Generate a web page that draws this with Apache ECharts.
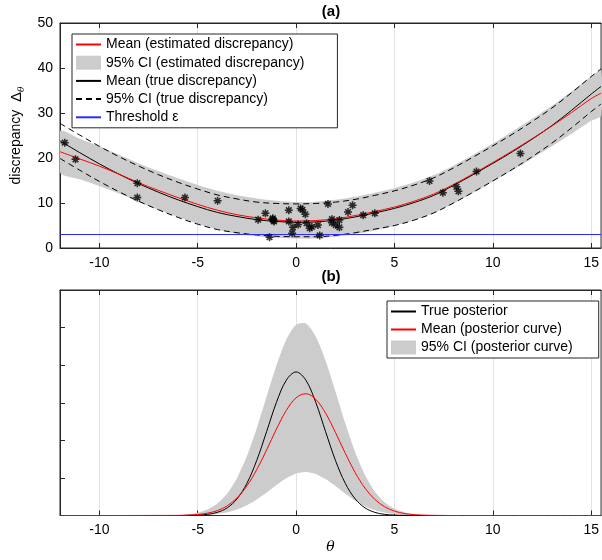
<!DOCTYPE html>
<html><head><meta charset="utf-8">
<script src="https://cdn.jsdelivr.net/npm/echarts@6/dist/echarts.min.js"></script>
<style>html,body{margin:0;padding:0;background:#fff}#c{width:602px;height:560px}</style>
</head><body><div id="c"></div>
<script>
// ---------- data: panel (a) ----------
const thetaA   = [-12,-11,-10,-9,-8,-7,-6,-5,-4,-3,-2,-1,0,1,2,3,4,5,6,7,8,9,10,11,12,13,14,15,15.5];
const estMean  = [21.4,19.8,18.2,16.4,14.5,12.8,11.2,9.7,8.4,7.4,6.7,6.2,6.0,6.1,6.5,7.2,8.1,9.1,10.4,12.0,14.1,16.5,19.0,21.6,24.3,27.1,30.1,33.2,34.4];
const estHi    = [26.0,24.3,22.6,20.7,18.8,17.1,15.5,14.0,12.7,11.7,11.0,10.5,10.2,10.3,10.7,11.4,12.3,13.3,14.6,16.2,18.3,20.7,23.2,25.9,28.7,31.6,34.8,38.1,39.4];
const estLo    = [16.8,15.3,13.8,12.1,10.2,8.5,6.9,5.4,4.1,3.1,2.6,2.2,2.1,2.1,2.5,3.1,3.9,4.9,6.2,7.8,9.9,12.3,14.8,17.3,19.9,22.6,25.4,28.3,29.4];
const trueMean = [23.8,21.2,18.7,16.4,14.3,12.4,10.7,9.2,7.9,7.0,6.3,5.9,5.7,5.8,6.2,6.9,7.8,8.8,10.1,11.7,13.9,16.3,18.8,21.4,24.2,27.2,30.6,34.2,35.9];
const trueHi   = [27.7,25.1,22.6,20.3,18.2,16.3,14.6,13.1,11.8,10.9,10.2,9.9,9.8,9.9,10.2,10.8,11.7,12.7,14.0,15.6,17.8,20.2,22.7,25.3,28.1,31.1,34.5,38.1,39.8];
const trueLo   = [19.9,17.3,14.8,12.5,10.4,8.5,6.8,5.3,4.1,3.4,2.9,2.6,2.5,2.5,2.8,3.4,4.2,5.0,6.2,7.8,10.0,12.4,14.9,17.5,20.3,23.3,26.7,30.3,32.0];
const thresholdEps = 3;
const obsTheta = [-11.76,-11.21,-8.07,-8.07,-5.65,-3.99,-1.93,-1.56,-1.18,-1.12,-1.2,-1.15,-1.35,-0.37,-0.37,-0.16,-0.2,0.1,0.23,0.32,0.47,0.53,0.69,0.8,1.11,1.2,1.62,1.82,1.82,2.02,2.2,2.2,2.64,2.87,3.41,4.0,6.78,7.46,8.15,8.25,9.17,11.4,15.55];
const obsDisc  = [23.4,19.7,14.4,11.2,11.2,10.5,6.3,7.7,6.6,5.9,6.4,6.1,2.4,8.4,5.9,4.6,3.3,5.2,8.8,8.5,7.5,5.5,4.4,4.7,5.1,2.8,9.8,6.4,5.6,5.1,4.6,6.2,8.0,9.5,7.3,7.7,14.9,12.3,13.6,12.6,17.0,21.0,34.4];

// ---------- data: panel (b) ----------
const thetaB    = [-12,-9,-7,-6,-5.5,-5,-4.5,-4,-3.5,-3,-2.5,-2,-1.5,-1,-0.5,0,0.5,1,1.5,2,2.5,3,3.5,4,4.5,5,5.5,6,6.5,7,8,10,12,15.5];
const truePost  = [0,0,0,0,0.0001,0.0005,0.0015,0.0042,0.0102,0.0222,0.0428,0.0733,0.1115,0.1504,0.1799,0.191,0.1799,0.1504,0.1115,0.0733,0.0428,0.0222,0.0102,0.0042,0.0015,0.0005,0.0001,0,0,0,0,0,0,0];
const meanPost  = [0,0,0.0001,0.0002,0.0005,0.0013,0.0031,0.0065,0.0129,0.0235,0.0394,0.0610,0.0872,0.1149,0.1397,0.1566,0.1620,0.1546,0.1361,0.1105,0.0828,0.0572,0.0365,0.0215,0.0116,0.0058,0.0027,0.0011,0.0005,0.0002,0,0,0,0];
const ciHiPost  = [0,0,0.0001,0.0006,0.0016,0.0037,0.0079,0.0158,0.0292,0.0499,0.0790,0.1161,0.1582,0.1997,0.2338,0.2537,0.2553,0.2381,0.2059,0.1650,0.1226,0.0845,0.0540,0.0319,0.0175,0.0089,0.0042,0.0018,0.0007,0.0003,0,0,0,0];
const ciLoPost  = [0,0,0,0.0001,0.0002,0.0004,0.0010,0.0021,0.0043,0.0079,0.0135,0.0212,0.0306,0.0407,0.0497,0.0560,0.0580,0.0553,0.0484,0.0391,0.0290,0.0198,0.0124,0.0072,0.0038,0.0019,0.0008,0.0003,0.0001,0,0,0,0,0];

const xTicks = [-10,-5,0,5,10,15];

// ---------- build ----------
const FONT = '"Liberation Sans", Arial, Helvetica, sans-serif';
const INK = '#262626';
const BAND = '#cccccc';
const zip = (xs, ys) => xs.map((x, i) => [x, ys[i]]);

function xAx(grid, opts) {
  return Object.assign({
    gridIndex: grid, type: 'value', min: -12, max: 15.5,
    axisLine: { onZero: false, lineStyle: { color: INK, width: 1 } },
    axisTick: { inside: true, length: 5, customValues: xTicks, lineStyle: { color: INK } },
    axisLabel: { customValues: xTicks, fontSize: 14, color: '#000', fontFamily: FONT, margin: 8 },
    splitLine: { show: true, lineStyle: { color: '#e2e2e2', width: 1 } }
  }, opts || {});
}
function xAxTop(grid) {
  return {
    gridIndex: grid, type: 'value', min: -12, max: 15.5, position: 'top',
    axisLine: { onZero: false, lineStyle: { color: INK } },
    axisTick: { inside: true, length: 5, customValues: xTicks, lineStyle: { color: INK } },
    axisLabel: { show: false }, splitLine: { show: false }
  };
}
function yAx(grid, max, interval, extra) {
  return Object.assign({
    gridIndex: grid, type: 'value', min: 0, max, interval, position: 'left',
    axisLine: { show: true, onZero: false, lineStyle: { color: INK } },
    axisTick: { show: true, inside: true, length: 5, lineStyle: { color: INK } },
    axisLabel: { show: false }, splitLine: { show: false }
  }, extra || {});
}

const line = (name, xi, data, color, extra) => Object.assign({
  name, type: 'line', xAxisIndex: xi, yAxisIndex: xi, data, symbol: 'none', showSymbol: false,
  smooth: 0.35, silent: true, z: 3,
  lineStyle: { color, width: 1 }, itemStyle: { color }
}, extra || {});

// band between two read-off edges, drawn through the axis scales
const band = (name, xi, xs, lo, hi) => ({
  name, type: 'custom', xAxisIndex: xi, yAxisIndex: xi, silent: true, z: 1, clip: true,
  itemStyle: { color: BAND },
  data: [[xs[0], lo[0]]],
  renderItem: (params, api) => {
    const up = xs.map((x, i) => api.coord([x, hi[i]]));
    const dn = xs.map((x, i) => api.coord([x, lo[i]])).reverse();
    return { type: 'polygon', shape: { points: up.concat(dn), smooth: 0.25 }, style: { fill: BAND, stroke: null } };
  }
});

const legendBase = {
  orient: 'vertical', selectedMode: false,
  itemWidth: 25, itemHeight: 14,
  borderColor: INK, borderWidth: 1, backgroundColor: '#fff',
  itemStyle: { opacity: 0 },
  textStyle: { fontSize: 14, color: '#000', fontFamily: FONT }
};

const chart = echarts.init(document.getElementById('c'), null, { renderer: 'canvas' });
chart.setOption({
  animation: false,
  textStyle: { fontFamily: FONT },
  graphic: [
    { type: 'text', x: 331, y: 12, style: { text: '(a)', fontSize: 15, fontWeight: 'bold', fontFamily: FONT, fill: '#000', align: 'center', verticalAlign: 'middle' } },
    { type: 'text', x: 331, y: 277, style: { text: '(b)', fontSize: 15, fontWeight: 'bold', fontFamily: FONT, fill: '#000', align: 'center', verticalAlign: 'middle' } }
  ],
  grid: [
    { left: 60, top: 23, width: 542, height: 225, show: true, borderColor: INK, borderWidth: 1 },
    { left: 60, top: 290, width: 542, height: 225.5, show: true, borderColor: INK, borderWidth: 1 }
  ],
  legend: [
    Object.assign({}, legendBase, {
      left: 72, top: 34, itemGap: 4.2, padding: [3.5, 33, 3.5, 3],
      data: [
        { name: 'Mean (estimated discrepancy)' },
        { name: '95% CI (estimated discrepancy)', icon: 'rect', itemStyle: { color: BAND, opacity: 1 } },
        { name: 'Mean (true discrepancy)' },
        { name: '95% CI (true discrepancy)' },
        { name: 'Threshold ε' }
      ]
    }),
    Object.assign({}, legendBase, {
      left: 387, top: 301, itemGap: 4, padding: [3.5, 26, 3.5, 3],
      data: [
        { name: 'True posterior' },
        { name: 'Mean (posterior curve)' },
        { name: '95% CI (posterior curve)', icon: 'rect', itemStyle: { color: BAND, opacity: 1 } }
      ]
    })
  ],
  xAxis: [
    xAx(0),
    xAx(1, { name: 'θ', nameLocation: 'middle', nameGap: 25,
      nameTextStyle: { fontSize: 14, fontStyle: 'italic', fontFamily: '"DejaVu Serif", "Liberation Serif", serif', color: '#000' } }),
    xAxTop(0), xAxTop(1)
  ],
  yAxis: [
    yAx(0, 50, 10, {
      axisLabel: { show: true, fontSize: 14, color: '#000', fontFamily: FONT, margin: 7 },
      name: 'discrepancy  {d|Δ}{s|θ}', nameLocation: 'middle', nameGap: 33,
      nameTextStyle: { fontSize: 14, color: '#000', fontFamily: FONT,
        rich: {
          d: { fontSize: 15, color: '#000', fontFamily: FONT, lineHeight: 20 },
          s: { fontSize: 9, fontStyle: 'italic', color: '#000', fontFamily: '"DejaVu Serif", serif', verticalAlign: 'bottom', lineHeight: 14 }
        } }
    }),
    yAx(1, 0.3, 0.05)
  ],
  series: [
    // ----- panel (a) -----
    band('95% CI (estimated discrepancy)', 0, thetaA, estLo, estHi),
    line('95% CI (true discrepancy)', 0, zip(thetaA, trueHi), '#000', { z: 2, lineStyle: { color: '#000', width: 1, type: [6, 4] } }),
    line('95% CI (true discrepancy)', 0, zip(thetaA, trueLo), '#000', { z: 2, lineStyle: { color: '#000', width: 1, type: [6, 4] } }),
    line('Mean (true discrepancy)', 0, zip(thetaA, trueMean), '#000'),
    line('Mean (estimated discrepancy)', 0, zip(thetaA, estMean), '#ff0000', { z: 4 }),
    line('Threshold ε', 0, [[-12, thresholdEps], [15.5, thresholdEps]], '#2b2bff', { smooth: false, z: 4 }),
    {
      name: 'observations', type: 'scatter', xAxisIndex: 0, yAxisIndex: 0, silent: true, z: 6,
      data: zip(obsTheta, obsDisc),
      symbol: 'path://M5 0L5 10M0 5L10 5M1.5 1.5L8.5 8.5M1.5 8.5L8.5 1.5',
      symbolSize: 8,
      itemStyle: { color: 'rgba(0,0,0,0)', borderColor: '#000', borderWidth: 1.5 }
    },
    // ----- panel (b) -----
    band('95% CI (posterior curve)', 1, thetaB, ciLoPost, ciHiPost),
    line('True posterior', 1, zip(thetaB, truePost), '#000'),
    line('Mean (posterior curve)', 1, zip(thetaB, meanPost), '#ff0000', { z: 4 })
  ]
});
</script>
</body></html>
